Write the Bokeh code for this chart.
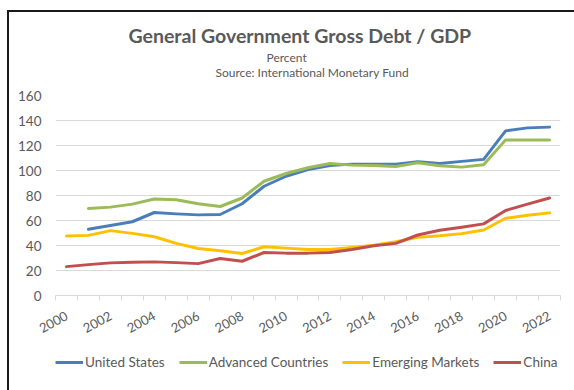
from bokeh.plotting import figure
from bokeh.layouts import column
from bokeh.models import (Range1d, FixedTicker, Legend, LegendItem, Title)
from bokeh.embed import file_html
from bokeh.resources import INLINE

NaN = float("nan")

years = [2000, 2001, 2002, 2003, 2004, 2005, 2006, 2007, 2008, 2009, 2010, 2011,
         2012, 2013, 2014, 2015, 2016, 2017, 2018, 2019, 2020, 2021, 2022]
united_states = [NaN, 53.0, 56.0, 59.0, 66.4, 65.3, 64.5, 64.8, 73.4, 87.4, 95.4, 100.8,
                 104.0, 105.1, 105.0, 105.0, 107.0, 105.6, 107.3, 108.9, 131.7, 134.1, 134.7]
advanced = [NaN, 69.6, 70.7, 73.1, 77.2, 76.6, 73.4, 71.2, 78.0, 91.4, 97.6, 102.2,
            105.6, 104.3, 104.0, 103.2, 106.2, 103.8, 102.7, 104.6, 124.5, 124.5, 124.5]
emerging = [47.6, 48.1, 51.9, 49.7, 47.0, 41.7, 37.6, 35.8, 33.6, 39.0, 37.9, 36.8,
            36.8, 38.4, 40.3, 43.0, 46.5, 47.8, 49.5, 52.4, 61.8, 64.2, 66.1]
china = [23.1, 24.7, 26.1, 26.6, 26.9, 26.3, 25.5, 29.6, 27.4, 34.4, 33.9, 33.9,
         34.4, 36.8, 39.8, 41.7, 48.4, 52.2, 54.6, 57.3, 68.0, 73.1, 78.0]

series_names = ["United States", "Advanced Countries", "Emerging Markets", "China"]
series_values = [united_states, advanced, emerging, china]
series_colors = ["#4a7ebb", "#9bbb59", "#ffc000", "#c0504d"]

x_tick_labels = ["2000", "2002", "2004", "2006", "2008", "2010", "2012",
                 "2014", "2016", "2018", "2020", "2022"]
y_ticks = [0, 20, 40, 60, 80, 100, 120, 140, 160]

title_text = "General Government Gross Debt / GDP"
subtitle_text = "Percent"
source_text = "Source:  International Monetary Fund"

FONT = "Lato"
GRAY = "#595959"
BORDER = "2px solid #1a1a1a"

# ---------------- main chart ----------------
p = figure(frame_width=503, frame_height=198, output_backend="svg",
           toolbar_location=None, title=None,
           x_range=Range1d(years[0] - 0.5, years[-1] + 0.5),
           y_range=Range1d(y_ticks[0], y_ticks[-1]),
           min_border_left=46, min_border_right=16, min_border_top=83,
           min_border_bottom=50)
p.styles = {"margin-left": "7px", "margin-top": "10px",
            "border-left": BORDER, "border-top": BORDER}
p.outline_line_color = None
p.background_fill_color = "white"
p.border_fill_color = "white"

p.xgrid.grid_line_color = None
p.ygrid.grid_line_color = "#d9d9d9"
p.ygrid.grid_line_width = 1

p.yaxis.ticker = FixedTicker(ticks=y_ticks)
p.yaxis.axis_line_color = None
p.yaxis.major_tick_line_color = None
p.yaxis.minor_tick_line_color = None
p.yaxis.major_tick_out = 0
p.yaxis.major_label_standoff = 14
p.yaxis.major_label_text_font = FONT
p.yaxis.major_label_text_font_size = "13.5px"
p.yaxis.major_label_text_color = GRAY

tick_vals = [int(s) for s in x_tick_labels]
boundaries = [y - 0.5 for y in years] + [years[-1] + 0.5]
p.xaxis.ticker = FixedTicker(ticks=tick_vals, minor_ticks=boundaries)
p.xaxis.major_label_overrides = {v: s for v, s in zip(tick_vals, x_tick_labels)}
p.xaxis.axis_line_color = "#d9d9d9"
p.xaxis.major_tick_line_color = None
p.xaxis.major_tick_out = 0
p.xaxis.major_tick_in = 0
p.xaxis.minor_tick_line_color = "#d9d9d9"
p.xaxis.minor_tick_in = 0
p.xaxis.minor_tick_out = 5
p.xaxis.major_label_orientation = 0.5
p.xaxis.major_label_standoff = 14
p.xaxis.major_label_text_font = FONT
p.xaxis.major_label_text_font_size = "13px"
p.xaxis.major_label_text_color = GRAY

for name, vals, col in zip(series_names, series_values, series_colors):
    p.line(years, vals, line_color=col, line_width=3, line_join="round",
           line_cap="round")

# titles: first added sits closest to the plotting frame
p.add_layout(Title(text=" ", standoff=1, text_font=FONT, text_font_size="12px",
                   text_color=GRAY), "above")
p.add_layout(Title(text=source_text, align="left", offset=160, standoff=-4,
                   text_font=FONT, text_font_size="12px", text_font_style="normal",
                   text_color=GRAY), "above")
p.add_layout(Title(text=subtitle_text, align="left", offset=211, standoff=0,
                   text_font=FONT, text_font_size="12px", text_font_style="normal",
                   text_color=GRAY), "above")
p.add_layout(Title(text=title_text, align="left", offset=73, standoff=2,
                   text_font=FONT, text_font_size="19.5px", text_font_style="bold",
                   text_color=GRAY), "above")

# ---------------- legend strip (frame aligned with the chart above) ----------------
leg = figure(width=565, height=47, output_backend="svg", toolbar_location=None,
             title=None, x_axis_type=None, y_axis_type=None,
             x_range=Range1d(0, 1), y_range=Range1d(0, 1),
             min_border_left=0, min_border_right=0, min_border_top=0,
             min_border_bottom=0)
leg.styles = {"margin-left": "7px", "border-left": BORDER}
leg.outline_line_color = None
leg.grid.visible = False
leg.background_fill_color = "white"
leg.border_fill_color = "white"

items = []
for name, vals, col in zip(series_names, series_values, series_colors):
    # same series, outside this strip's ranges: only the legend swatch shows
    r = leg.line(years, vals, line_color=col, line_width=3)
    items.append(LegendItem(label=name, renderers=[r]))

legend = Legend(items=items, orientation="horizontal", location=(0, 20),
                padding=0, margin=0, spacing=14, glyph_width=28, glyph_height=16,
                label_height=16, label_standoff=2,
                label_text_font=FONT, label_text_font_size="13.5px",
                label_text_color=GRAY, border_line_color=None,
                background_fill_alpha=0)
leg.add_layout(legend, "center")

layout = column(p, leg, spacing=0)
open("out.html", "w").write(file_html(layout, INLINE))
